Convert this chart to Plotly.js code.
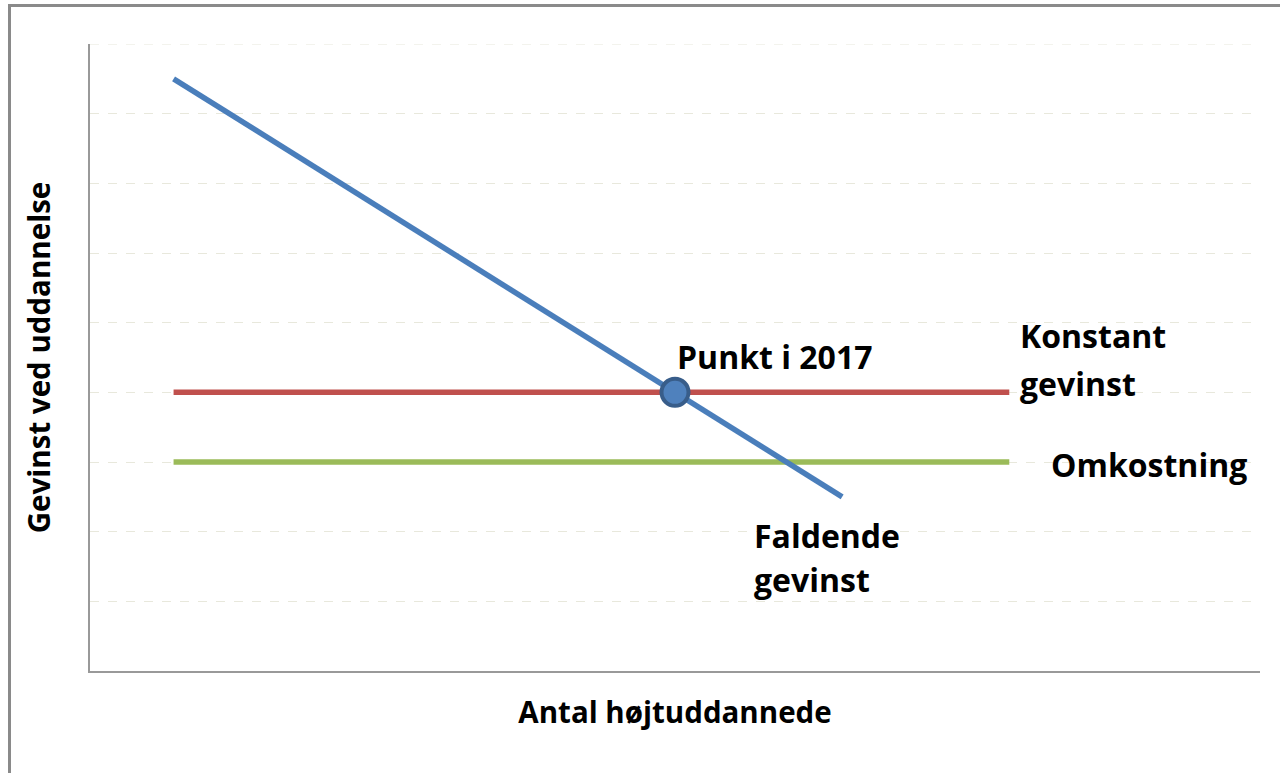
<!DOCTYPE html>
<html>
<head>
<meta charset="utf-8">
<script src="https://cdn.plot.ly/plotly-3.0.1.min.js"></script>
<style>
html,body{margin:0;padding:0;background:#fff;}
#wrap{position:relative;width:1280px;height:773px;}
#chart{position:absolute;left:0;top:0;width:1280px;height:773px;}
#frame{position:absolute;left:8px;top:4px;width:1272px;height:769px;border-top:3px solid #8a8a8a;border-left:3px solid #8a8a8a;box-sizing:border-box;pointer-events:none;}
</style>
</head>
<body>
<div id="wrap"><div id="chart"></div><div id="frame"></div></div>
<script>
const categories = [0, 1, 2, 3, 4, 5, 6];
const falling = [8.5, 7, 5.5, 4, 2.5, null, null];
const constant = [4, 4, 4, 4, 4, 4, null];
const cost = [3, 3, 3, 3, 3, 3, null];
const pointX = [3];
const pointY = [4];

const font = "'Open Sans', 'Noto Sans', sans-serif";

const traces = [
  {x: categories, y: constant, mode: 'lines', line: {color: '#c0504d', width: 5.5}, hoverinfo: 'skip'},
  {x: categories, y: cost, mode: 'lines', line: {color: '#9bbb59', width: 5.5}, hoverinfo: 'skip'},
  {x: categories, y: falling, mode: 'lines', line: {color: '#4a7ebb', width: 5.5}, hoverinfo: 'skip'},
  {x: pointX, y: pointY, mode: 'markers', marker: {size: 27, color: '#4f81bd', line: {color: '#385d8a', width: 4}}, hoverinfo: 'skip'}
];

const ann = (x, y, text) => ({x: x, y: y, xref: 'x', yref: 'y', text: '<b>' + text + '</b>', showarrow: false, xanchor: 'left', yanchor: 'middle', align: 'left', font: {family: font, size: 32, color: '#000'}});

const layout = {
  width: 1280, height: 773,
  margin: {l: 90, r: 20, t: 44, b: 102},
  paper_bgcolor: '#fff', plot_bgcolor: '#fff',
  showlegend: false,
  xaxis: {
    range: [-0.5, 6.5], showgrid: false, zeroline: false, showticklabels: false, ticks: '',
    showline: true, linecolor: '#999', linewidth: 2,
    title: {text: '<b>Antal højtuddannede</b>', font: {family: font, size: 29.5, color: '#000'}, standoff: 30}
  },
  yaxis: {
    range: [0, 9], dtick: 1, showgrid: true, gridcolor: '#e8e8dc', griddash: 'dash', gridwidth: 1,
    zeroline: false, showticklabels: false, ticks: '',
    showline: true, linecolor: '#999', linewidth: 2,
    title: {text: '<b>Gevinst ved uddannelse</b>', font: {family: font, size: 29.5, color: '#000'}, standoff: 29}
  },
  shapes: [
    {type: 'line', xref: 'paper', yref: 'y', x0: 0, x1: 1, y0: 9, y1: 9, line: {color: '#e8e8dc', width: 1, dash: 'dash'}, layer: 'below'}
  ],
  annotations: [
    ann(3.0, 4.51, 'Punkt i 2017'),
    ann(5.05, 4.82, 'Konstant'),
    ann(5.05, 4.13, 'gevinst'),
    ann(5.24, 2.96, 'Omkostning'),
    ann(3.46, 1.95, 'Faldende'),
    ann(3.46, 1.31, 'gevinst')
  ]
};

Plotly.newPlot('chart', traces, layout, {staticPlot: true, displayModeBar: false});
</script>
</body>
</html>
